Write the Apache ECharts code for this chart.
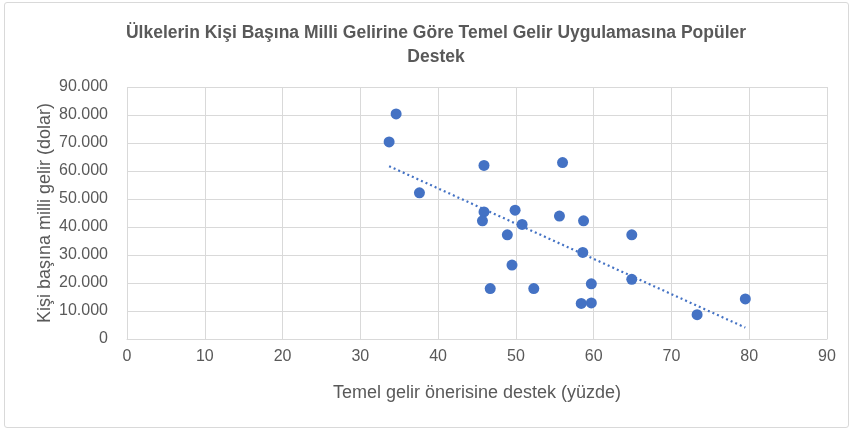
<!DOCTYPE html>
<html lang="tr">
  <head>
    <meta charset="UTF-8" />
    <title>Temel Gelir Desteği</title>
    <script src="https://cdn.jsdelivr.net/npm/echarts@6/dist/echarts.min.js"></script>
    <style>
      body { margin: 0; background: #fff; }
      #frame { position: absolute; left: 4px; top: 2px; width: 843px; height: 424px; border: 1px solid #d9d9d9; border-radius: 3px; }
      #chart { position: absolute; left: 0; top: 0; width: 853px; height: 431px; }
    </style>
  </head>
  <body>
    <div id="frame"></div>
    <div id="chart"></div>
    <script>
      // destek yüzdesi (x) ve kişi başına milli gelir (y)
      const support = [34.6, 33.7, 37.6, 45.9, 56.0, 45.9, 45.7, 49.9, 50.8, 55.6, 58.7, 48.9,
        64.9, 58.6, 49.5, 46.7, 52.3, 59.7, 64.9, 58.4, 59.7, 79.5, 73.3]
      const income = [80400, 70400, 52200, 62000, 63000, 45400, 42200, 46000, 40900, 43900, 42200, 37200,
        37200, 30900, 26400, 18000, 18000, 19700, 21300, 12700, 12900, 14300, 8700]

      const titleText = 'Ülkelerin Kişi Başına Milli Gelirine Göre Temel Gelir Uygulamasına Popüler\nDestek'
      const xName = 'Temel gelir önerisine destek (yüzde)'
      const yName = 'Kişi başına milli gelir (dolar)'

      // doğrusal eğilim çizgisi (en küçük kareler)
      const n = support.length
      const mx = support.reduce((a, b) => a + b, 0) / n
      const my = income.reduce((a, b) => a + b, 0) / n
      let sxy = 0, sxx = 0
      for (let i = 0; i < n; i++) {
        sxy += (support[i] - mx) * (income[i] - my)
        sxx += (support[i] - mx) ** 2
      }
      const slope = sxy / sxx
      const icpt = my - slope * mx
      const x0 = Math.min(...support), x1 = Math.max(...support)
      const trend = [[x0, icpt + slope * x0], [x1, icpt + slope * x1]]

      const font = 'Liberation Sans'
      const grey = '#595959'
      const chart = echarts.init(document.getElementById('chart'))
      chart.setOption({
        animation: false,
        textStyle: { fontFamily: font },
        title: {
          text: titleText,
          left: 431,
          top: 16,
          textAlign: 'center',
          textStyle: { fontSize: 17.5, fontWeight: 'bold', color: grey, lineHeight: 24, fontFamily: font }
        },
        grid: { left: 127, right: 26, top: 87, bottom: 92 },
        xAxis: {
          type: 'value', min: 0, max: 90, interval: 10,
          name: xName, nameLocation: 'middle', nameGap: 45,
          nameMoveOverlap: false,
          nameTextStyle: { fontSize: 18, color: grey },
          axisLine: { show: true, lineStyle: { color: '#d9d9d9' } },
          axisTick: { show: false },
          axisLabel: { fontSize: 16, color: grey, margin: 10 },
          splitLine: { show: true, lineStyle: { color: '#d9d9d9' } }
        },
        yAxis: {
          type: 'value', min: 0, max: 90000, interval: 10000,
          name: yName, nameLocation: 'middle', nameGap: 73,
          nameMoveOverlap: false,
          nameTextStyle: { fontSize: 18, color: grey },
          axisLine: { show: false },
          axisTick: { show: false },
          axisLabel: {
            fontSize: 16, color: grey, margin: 19,
            formatter: v => v.toLocaleString('de-DE')
          },
          splitLine: { lineStyle: { color: '#d9d9d9' } }
        },
        series: [
          {
            type: 'line',
            data: trend,
            showSymbol: false,
            lineStyle: { color: '#4472c4', width: 2.2, type: [2, 3] },
            z: 1
          },
          {
            type: 'scatter',
            data: support.map((x, i) => [x, income[i]]),
            symbolSize: 11,
            itemStyle: { color: '#4472c4', opacity: 1 },
            z: 2
          }
        ]
      })
    </script>
  </body>
</html>
